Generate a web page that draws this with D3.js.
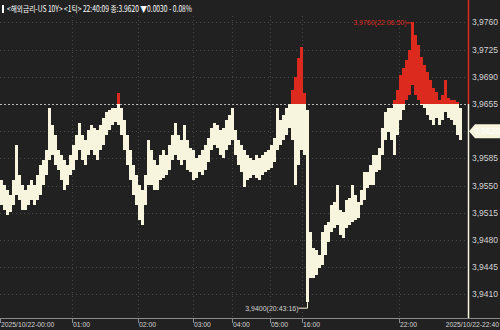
<!DOCTYPE html>
<html>
<head>
<meta charset="utf-8">
<script src="https://cdn.jsdelivr.net/npm/d3@7"></script>
<style>
  html, body { margin: 0; padding: 0; background: #212121; }
  svg { display: block; }
</style>
</head>
<body>
<div id="svgcontainer"></div>
<script>
// --- --- Data --- ---

// Title line of the tick chart
var title = "<해외금리-US 10Y> <1틱> 22:40:09 종:3.9620 ▼0.0030 - 0.08%";

// Previous close (dashed reference line) and the last price
var base_price = 3.9655;
var last_price = 3.9620;

// Right axis tick values
var y_ticks = [3.9410, 3.9445, 3.9480, 3.9515, 3.9550, 3.9585, 3.9620, 3.9655, 3.9690, 3.9725, 3.9760];

// Time labels and their column position (time axis is not linear, gaps are compressed)
var x_labels = ["2025/10/22-00:00", "01:00", "02:00", "03:00", "04:00", "05:00", "16:00", "22:00", "2025/10/22-22:40"];
var x_label_pos = [0, 24, 46, 64.3, 77.3, 90, 100.7, 133, 156];

// High of each column
var highs = [
  3.9557, 3.9551, 3.9544, 3.9538, 3.9557, 3.9602, 3.9564, 3.9551, 3.9544, 3.9551,
  3.9557, 3.9551, 3.9564, 3.9577, 3.9583, 3.9596, 3.9650, 3.9628, 3.9615, 3.9596,
  3.9589, 3.9583, 3.9577, 3.9589, 3.9602, 3.9615, 3.9631, 3.9615, 3.9609, 3.9622,
  3.9628, 3.9624, 3.9622, 3.9628, 3.9637, 3.9645, 3.9647, 3.9650, 3.9650, 3.9669,
  3.9650, 3.9634, 3.9615, 3.9596, 3.9577, 3.9564, 3.9551, 3.9544, 3.9564, 3.9609,
  3.9596, 3.9583, 3.9577, 3.9589, 3.9596, 3.9589, 3.9602, 3.9615, 3.9631, 3.9615,
  3.9609, 3.9628, 3.9609, 3.9598, 3.9596, 3.9585, 3.9589, 3.9596, 3.9602, 3.9611,
  3.9624, 3.9631, 3.9628, 3.9622, 3.9624, 3.9634, 3.9641, 3.9650, 3.9622, 3.9609,
  3.9602, 3.9596, 3.9589, 3.9585, 3.9583, 3.9589, 3.9585, 3.9589, 3.9593, 3.9596,
  3.9602, 3.9611, 3.9650, 3.9634, 3.9641, 3.9650, 3.9655, 3.9673, 3.9690, 3.9714,
  3.9728, 3.9669, 3.9647, 3.9490, 3.9470, 3.9467, 3.9461, 3.9490, 3.9499, 3.9503,
  3.9525, 3.9529, 3.9551, 3.9519, 3.9516, 3.9531, 3.9534, 3.9551, 3.9538, 3.9529,
  3.9544, 3.9567, 3.9567, 3.9577, 3.9589, 3.9589, 3.9598, 3.9624, 3.9645, 3.9650,
  3.9650, 3.9660, 3.9673, 3.9692, 3.9701, 3.9712, 3.9725, 3.9760, 3.9744, 3.9731,
  3.9716, 3.9705, 3.9696, 3.9686, 3.9676, 3.9670, 3.9660, 3.9667, 3.9686, 3.9663,
  3.9660, 3.9660, 3.9658, 3.9650
];

// Low of each column
var lows = [
  3.9525, 3.9519, 3.9512, 3.9516, 3.9525, 3.9538, 3.9531, 3.9519, 3.9519, 3.9525,
  3.9531, 3.9525, 3.9531, 3.9538, 3.9551, 3.9564, 3.9583, 3.9589, 3.9577, 3.9570,
  3.9557, 3.9544, 3.9551, 3.9564, 3.9570, 3.9583, 3.9596, 3.9583, 3.9577, 3.9589,
  3.9596, 3.9589, 3.9583, 3.9596, 3.9602, 3.9615, 3.9622, 3.9628, 3.9632, 3.9628,
  3.9615, 3.9596, 3.9577, 3.9557, 3.9538, 3.9525, 3.9506, 3.9499, 3.9525, 3.9551,
  3.9551, 3.9544, 3.9544, 3.9557, 3.9560, 3.9564, 3.9570, 3.9583, 3.9589, 3.9583,
  3.9577, 3.9583, 3.9570, 3.9567, 3.9557, 3.9560, 3.9567, 3.9564, 3.9570, 3.9580,
  3.9596, 3.9602, 3.9598, 3.9589, 3.9585, 3.9596, 3.9602, 3.9609, 3.9589, 3.9577,
  3.9567, 3.9548, 3.9557, 3.9560, 3.9564, 3.9560, 3.9557, 3.9564, 3.9567, 3.9570,
  3.9573, 3.9580, 3.9596, 3.9602, 3.9609, 3.9615, 3.9624, 3.9609, 3.9551, 3.9577,
  3.9596, 3.9589, 3.9400, 3.9431, 3.9431, 3.9435, 3.9444, 3.9448, 3.9461, 3.9477,
  3.9490, 3.9495, 3.9499, 3.9486, 3.9483, 3.9495, 3.9499, 3.9503, 3.9506, 3.9508,
  3.9525, 3.9531, 3.9547, 3.9551, 3.9551, 3.9567, 3.9570, 3.9589, 3.9609, 3.9619,
  3.9609, 3.9589, 3.9615, 3.9634, 3.9647, 3.9660, 3.9667, 3.9679, 3.9667, 3.9660,
  3.9654, 3.9650, 3.9641, 3.9634, 3.9628, 3.9637, 3.9628, 3.9634, 3.9645, 3.9637,
  3.9634, 3.9628, 3.9615, 3.9609
];

// High / low annotations
var max_label = "3,9760(22:06:50)";
var min_label = "3,9400(20:43:16)";

// --- --- Layout --- ---

var width = 500;
var height = 330;
var plot_right = 468;
var axis_y = 318;

var cream = "#f7f5de";
var red = "#dc2a1f";
var grid_color = "#4a4a4a";
var text_color = "#d2d2d2";
var font = "Liberation Sans, Arial, sans-serif";

var svg = d3.select("#svgcontainer").append("svg")
  .attr("width", width).attr("height", height)
  .attr("viewBox", [0, 0, width, height]);

svg.append("rect").attr("width", width).attr("height", height).attr("fill", "#212121");

// scales: 156 columns across the plot, price axis on the right
var x = d3.scaleLinear().domain([0, 156]).range([0, plot_right]);
var y = d3.scaleLinear().domain([3.9410, 3.9760]).range([294.4, 22.4]);

function fmt(v){
  return d3.format(".4f")(v).replace(".", ",");
}

// --- Grid lines ---
svg.append("g").selectAll("line").data(y_ticks).join("line")
  .attr("x1", 0).attr("x2", plot_right)
  .attr("y1", d => Math.round(y(d)) + 0.5).attr("y2", d => Math.round(y(d)) + 0.5)
  .attr("stroke", grid_color).attr("stroke-width", 1).attr("stroke-dasharray", "1,3");

svg.append("g").selectAll("line").data(x_label_pos.slice(1, -1)).join("line")
  .attr("x1", d => Math.round(x(d)) + 0.5).attr("x2", d => Math.round(x(d)) + 0.5)
  .attr("y1", 16).attr("y2", axis_y)
  .attr("stroke", grid_color).attr("stroke-width", 1).attr("stroke-dasharray", "1,3");

// previous close line
svg.append("line")
  .attr("x1", 0).attr("x2", plot_right)
  .attr("y1", Math.round(y(base_price)) + 0.5).attr("y2", Math.round(y(base_price)) + 0.5)
  .attr("stroke", "#b8b8b8").attr("stroke-width", 1).attr("stroke-dasharray", "2,2");

// --- Bars: red part above the previous close, cream part below ---
var bars = svg.append("g").attr("shape-rendering", "crispEdges");
var bar_w = x(1) - x(0) - 0.5;
highs.forEach(function(hi, i){
  var lo = lows[i];
  if (hi > base_price){
    bars.append("rect")
      .attr("x", x(i)).attr("width", bar_w)
      .attr("y", y(hi)).attr("height", Math.max(1, y(Math.max(lo, base_price)) - y(hi)))
      .attr("fill", red);
  }
  if (lo < base_price){
    var top = Math.min(hi, base_price);
    bars.append("rect")
      .attr("x", x(i)).attr("width", bar_w)
      .attr("y", y(top)).attr("height", Math.max(1, y(lo) - y(top)))
      .attr("fill", cream);
  }
});

// --- Current time line at the right edge ---
svg.append("line")
  .attr("x1", plot_right + 0.5).attr("x2", plot_right + 0.5)
  .attr("y1", 0).attr("y2", y(base_price))
  .attr("stroke", red).attr("stroke-width", 1.5);
svg.append("line")
  .attr("x1", plot_right + 0.5).attr("x2", plot_right + 0.5)
  .attr("y1", y(base_price)).attr("y2", axis_y)
  .attr("stroke", cream).attr("stroke-width", 1.5);

// --- Right axis labels (last price takes the place of its tick) ---
svg.append("g").selectAll("text").data(y_ticks.filter(d => d != last_price)).join("text")
  .attr("x", 472).attr("y", d => y(d) + 3)
  .attr("fill", text_color)
  .attr("font-family", font)
  .attr("font-size", "8.5px")
  .text(d => fmt(d));

// last price box
var ly = y(last_price);
svg.append("path")
  .attr("d", "M" + (plot_right + 1) + "," + ly + " L" + (plot_right + 7) + "," + (ly - 7) + " L" + width + "," + (ly - 7)
    + " L" + width + "," + (ly + 7) + " L" + (plot_right + 7) + "," + (ly + 7) + " Z")
  .attr("fill", cream);
svg.append("text")
  .attr("x", 474).attr("y", ly + 3)
  .attr("fill", "#ffffff")
  .attr("font-family", font)
  .attr("font-size", "8.5px")
  .text(fmt(last_price));

// --- Bottom time axis ---
svg.append("line")
  .attr("x1", 0).attr("x2", width)
  .attr("y1", axis_y + 0.5).attr("y2", axis_y + 0.5)
  .attr("stroke", "#8a8a8a");

svg.append("g").selectAll("line").data(x_label_pos.slice(0, -1)).join("line")
  .attr("x1", d => Math.round(x(d)) + 0.5).attr("x2", d => Math.round(x(d)) + 0.5)
  .attr("y1", axis_y).attr("y2", axis_y + 5)
  .attr("stroke", "#8a8a8a");

x_labels.forEach(function(label, i){
  var last = i == x_labels.length - 1;
  svg.append("text")
    .attr("x", last ? width - 1 : x(x_label_pos[i]) + 1)
    .attr("y", 327)
    .attr("text-anchor", last ? "end" : "start")
    .attr("fill", text_color)
    .attr("font-family", font)
    .attr("font-size", "6.8px")
    .text(label);
});

// --- High / low annotations ---
var max_i = highs.indexOf(d3.max(highs));
var min_i = lows.indexOf(d3.min(lows));
var max_x = x(max_i + 0.5);
var min_x = x(min_i + 0.5);

svg.append("line")
  .attr("x1", max_x - 6).attr("x2", max_x).attr("y1", y(d3.max(highs)) + 0.5).attr("y2", y(d3.max(highs)) + 0.5)
  .attr("stroke", red);
svg.append("text")
  .attr("x", max_x - 6).attr("y", y(d3.max(highs)) + 3)
  .attr("text-anchor", "end")
  .attr("fill", red)
  .attr("font-family", font)
  .attr("font-size", "7px")
  .text(max_label);

var min_y = y(d3.min(lows)) + 6;
svg.append("path")
  .attr("d", "M" + (min_x - 9) + "," + min_y + " L" + min_x + "," + min_y + " L" + min_x + "," + y(d3.min(lows)))
  .attr("fill", "none").attr("stroke", cream);
svg.append("text")
  .attr("x", min_x - 9).attr("y", min_y + 3)
  .attr("text-anchor", "end")
  .attr("fill", text_color)
  .attr("font-family", font)
  .attr("font-size", "7px")
  .text(min_label);

// --- Title line ---
svg.append("rect").attr("x", 2).attr("y", 5).attr("width", 2).attr("height", 8).attr("fill", "#ffffff");
svg.append("text")
  .attr("x", 7).attr("y", 12)
  .attr("fill", "#ffffff")
  .attr("font-family", "Noto Sans CJK KR, sans-serif")
  .attr("font-size", "8.5px")
  .attr("textLength", 185)
  .attr("lengthAdjust", "spacingAndGlyphs")
  .text(title);
</script>
</body>
</html>
